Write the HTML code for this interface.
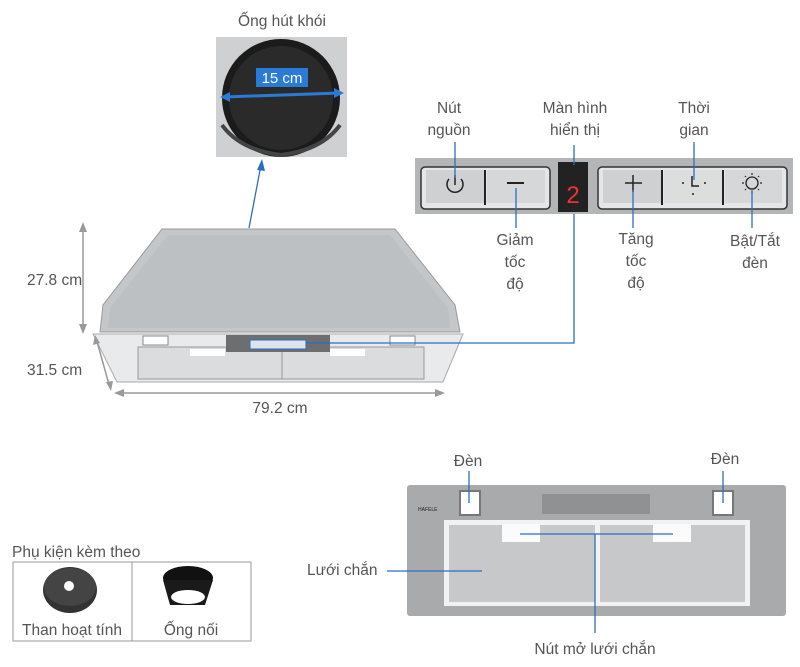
<!DOCTYPE html>
<html><head><meta charset="utf-8"><style>
html,body{margin:0;padding:0;background:#fff;}
svg{display:block;font-family:"Liberation Sans",sans-serif;}
text{fill:#555;font-size:15.5px;}
</style></head><body>
<svg width="800" height="667" viewBox="0 0 800 667" xmlns="http://www.w3.org/2000/svg">
<!-- duct -->
<text x="282" y="26" text-anchor="middle">Ống hút khói</text>
<rect x="216" y="37" width="131" height="120" fill="#cfd0d2"/>
<circle cx="281" cy="98" r="59" fill="#1b1b1b"/>
<circle cx="281" cy="98" r="52" fill="#2a2a2a"/>
<path d="M222 125 Q240 150 281 155 Q322 150 340 125" fill="none" stroke="#444" stroke-width="4"/>
<rect x="256" y="68" width="52" height="19" fill="#2a7ad8"/>
<text x="282" y="83" text-anchor="middle" style="fill:#fff;font-size:15px">15 cm</text>
<line x1="224" y1="97" x2="340" y2="93" stroke="#2a7ad8" stroke-width="3"/>
<polygon points="220,97 230,92 230,102" fill="#2a7ad8"/>
<polygon points="344,93 334,88 334,98" fill="#2a7ad8"/>
<line x1="249" y1="228" x2="261" y2="165" stroke="#2a6fc0" stroke-width="1.3"/>
<polygon points="262,159 257,170 265,171" fill="#2a6fc0"/>
<!-- hood top -->
<polygon points="162,229 395,229 455,305 460,332 100,332 103,305" fill="#c4c7c9" stroke="#999" stroke-width="1"/>
<polygon points="168,235 390,235 448,308 450,328 108,328 110,308" fill="#bcc0c3"/>
<polygon points="93,334 463,334 443,382 117,382" fill="#e9eaeb" stroke="#aaa"/>
<rect x="138" y="347" width="148" height="32" fill="#dadcdd" stroke="#999"/>
<rect x="282" y="347" width="142" height="32" fill="#dadcdd" stroke="#999"/>
<rect x="226" y="335" width="104" height="17" fill="#6d6e70"/>
<rect x="250" y="340" width="56" height="9" fill="#dfe3ea" stroke="#2a6fc0"/>
<rect x="143" y="336" width="25" height="9" fill="#fff" stroke="#888"/>
<rect x="390" y="336" width="25" height="9" fill="#fff" stroke="#888"/>
<rect x="190" y="349" width="35" height="7" fill="#fff"/>
<rect x="330" y="349" width="35" height="7" fill="#fff"/>
<polyline points="306,343 574,343 574,212" fill="none" stroke="#2a6fc0" stroke-width="1.3"/>
<!-- dims -->
<line x1="83" y1="226" x2="83" y2="330" stroke="#999" stroke-width="1.5"/>
<polygon points="83,222 79,232 87,232" fill="#999"/><polygon points="83,334 79,324 87,324" fill="#999"/>
<text x="27" y="285">27.8 cm</text>
<line x1="96" y1="338" x2="110" y2="388" stroke="#999" stroke-width="1.5"/>
<polygon points="95,335 93,345 100,343" fill="#999"/><polygon points="111,391 106,382 113,381" fill="#999"/>
<text x="27" y="375">31.5 cm</text>
<line x1="120" y1="393" x2="440" y2="393" stroke="#999" stroke-width="1.5"/>
<polygon points="114,393 124,389 124,397" fill="#999"/><polygon points="445,393 435,389 435,397" fill="#999"/>
<text x="280" y="413" text-anchor="middle">79.2 cm</text>
<!-- control panel -->
<rect x="415" y="158" width="378" height="56" fill="#b3b5b7"/>
<rect x="421" y="167" width="129" height="42" rx="4" fill="#e5e6e7" stroke="#333" stroke-width="1.5"/>
<rect x="426" y="170" width="58" height="33" fill="#cfd0d1"/>
<rect x="487" y="170" width="58" height="33" fill="#d6d7d8"/>
<line x1="485" y1="170" x2="485" y2="205" stroke="#222" stroke-width="2"/>
<path d="M449 179 A8 8 0 1 0 461 179" fill="none" stroke="#222" stroke-width="1.5"/>
<line x1="455" y1="175" x2="455" y2="185" stroke="#222" stroke-width="1.5"/>
<line x1="507" y1="183" x2="524" y2="183" stroke="#222" stroke-width="2"/>
<rect x="558" y="162" width="30" height="50" fill="#222"/>
<text x="573" y="203" text-anchor="middle" style="fill:#e33;font-size:24px">2</text>
<rect x="598" y="167" width="189" height="42" rx="4" fill="#e5e6e7" stroke="#333" stroke-width="1.5"/>
<rect x="603" y="170" width="58" height="33" fill="#cfd0d1"/>
<rect x="664" y="170" width="58" height="33" fill="#dcdddd"/>
<rect x="725" y="170" width="57" height="33" fill="#d6d7d8"/>
<line x1="662" y1="170" x2="662" y2="205" stroke="#222" stroke-width="2"/>
<line x1="723" y1="170" x2="723" y2="205" stroke="#222" stroke-width="2"/>
<line x1="625" y1="183" x2="642" y2="183" stroke="#222" stroke-width="1.5"/>
<line x1="633" y1="175" x2="633" y2="192" stroke="#222" stroke-width="1.5"/>
<polyline points="692,176 692,186 699,186" fill="none" stroke="#222" stroke-width="1.5"/>
<circle cx="683" cy="183" r="1" fill="#222"/><circle cx="705" cy="183" r="1" fill="#222"/><circle cx="693" cy="194" r="1" fill="#222"/>
<circle cx="752" cy="183" r="6" fill="none" stroke="#222" stroke-width="1.3"/>
<g stroke="#222" stroke-width="1.2">
<line x1="752" y1="173" x2="752" y2="175"/><line x1="752" y1="191" x2="752" y2="193"/>
<line x1="742" y1="183" x2="744" y2="183"/><line x1="760" y1="183" x2="762" y2="183"/>
<line x1="745" y1="176" x2="746" y2="177"/><line x1="758" y1="189" x2="759" y2="190"/>
<line x1="759" y1="176" x2="758" y2="177"/><line x1="746" y1="189" x2="745" y2="190"/>
</g>
<g stroke="#2a6fc0" stroke-width="1.3">
<line x1="455" y1="142" x2="455" y2="178"/>
<line x1="574" y1="145" x2="574" y2="165"/>
<line x1="694" y1="142" x2="694" y2="180"/>
<line x1="516" y1="188" x2="516" y2="228"/>
<line x1="633" y1="190" x2="633" y2="228"/>
<line x1="752" y1="190" x2="752" y2="228"/>
</g>
<text x="449" y="113" text-anchor="middle">Nút</text>
<text x="449" y="135" text-anchor="middle">nguồn</text>
<text x="575" y="113" text-anchor="middle">Màn hình</text>
<text x="575" y="135" text-anchor="middle">hiển thị</text>
<text x="694" y="113" text-anchor="middle">Thời</text>
<text x="694" y="135" text-anchor="middle">gian</text>
<text x="515" y="245" text-anchor="middle">Giảm</text>
<text x="515" y="267" text-anchor="middle">tốc</text>
<text x="515" y="289" text-anchor="middle">độ</text>
<text x="636" y="244" text-anchor="middle">Tăng</text>
<text x="636" y="266" text-anchor="middle">tốc</text>
<text x="636" y="288" text-anchor="middle">độ</text>
<text x="755" y="246" text-anchor="middle">Bật/Tắt</text>
<text x="755" y="268" text-anchor="middle">đèn</text>
<!-- bottom view -->
<rect x="407" y="485" width="379" height="131" rx="3" fill="#a9aaac"/>
<rect x="460" y="491" width="20" height="24" fill="#fff" stroke="#777" stroke-width="2"/>
<rect x="713" y="491" width="20" height="24" fill="#fff" stroke="#777" stroke-width="2"/>
<rect x="542" y="494" width="108" height="20" fill="#909193"/>
<text x="418" y="511" style="font-size:5px;fill:#222">HAFELE</text>
<rect x="444" y="520" width="306" height="86" fill="#f2f2f2"/>
<rect x="449" y="525" width="146" height="77" fill="#c7c8c9"/>
<rect x="600" y="525" width="145" height="77" fill="#c7c8c9"/>
<rect x="502" y="524" width="38" height="18" fill="#fbfbfb"/>
<rect x="653" y="524" width="38" height="18" fill="#fbfbfb"/>
<g stroke="#2a6fc0" stroke-width="1.3">
<line x1="469" y1="471" x2="469" y2="503"/>
<line x1="723" y1="471" x2="723" y2="503"/>
<line x1="520" y1="534" x2="673" y2="534"/>
<line x1="595" y1="534" x2="595" y2="633"/>
<line x1="387" y1="571" x2="482" y2="571"/>
</g>
<text x="468" y="466" text-anchor="middle">Đèn</text>
<text x="725" y="464" text-anchor="middle">Đèn</text>
<text x="307" y="575">Lưới chắn</text>
<text x="595" y="654" text-anchor="middle">Nút mở lưới chắn</text>
<!-- accessories -->
<text x="12" y="557">Phụ kiện kèm theo</text>
<rect x="13" y="562" width="238" height="79" fill="none" stroke="#999"/>
<line x1="132" y1="562" x2="132" y2="641" stroke="#999"/>
<ellipse cx="70" cy="590" rx="27" ry="23" fill="#333"/>
<ellipse cx="70" cy="587" rx="26" ry="19" fill="#444"/>
<circle cx="69" cy="586" r="5" fill="#fff"/>
<ellipse cx="188" cy="578" rx="25" ry="12" fill="#111"/>
<polygon points="163,580 213,580 205,605 170,605" fill="#1a1a1a"/>
<ellipse cx="188" cy="597" rx="17" ry="7" fill="#fff"/>
<text x="72" y="635" text-anchor="middle">Than hoạt tính</text>
<text x="191" y="635" text-anchor="middle">Ống nối</text>
</svg>
</body></html>
